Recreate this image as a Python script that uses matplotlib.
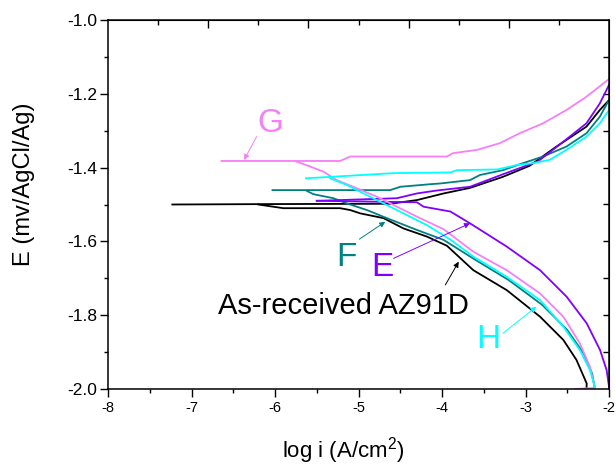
import matplotlib
matplotlib.use('Agg')
import matplotlib.pyplot as plt
import numpy as np

plt.rcParams['font.family'] = ['Liberation Sans', 'DejaVu Sans']
plt.rcParams['axes.unicode_minus'] = False
plt.rcParams['mathtext.fontset'] = 'custom'
plt.rcParams['mathtext.rm'] = 'Liberation Sans'

# As-received AZ91D (black)
blk_an_x = [-7.23, -6.2, -4.62, -4.30, -3.98, -3.665, -3.27, -2.95, -2.63, -2.27, -2.11, -2.0]
blk_an_y = [-1.500, -1.499, -1.498, -1.488, -1.470, -1.455, -1.425, -1.395, -1.343, -1.289, -1.244, -1.217]
blk_ca_x = [-6.2, -5.9, -5.22, -5.10, -4.98, -4.70, -4.46, -4.18, -3.94, -3.625, -3.225, -2.826, -2.547, -2.39, -2.267, -2.27]
blk_ca_y = [-1.500, -1.510, -1.510, -1.515, -1.524, -1.537, -1.565, -1.587, -1.612, -1.678, -1.732, -1.804, -1.867, -1.921, -1.985, -2.0]

# F (teal)
f_an_x = [-6.03, -4.62, -4.50, -4.14, -4.02, -3.665, -3.545, -3.27, -3.03, -2.79, -2.51, -2.27, -2.11, -2.0]
f_an_y = [-1.461, -1.461, -1.452, -1.445, -1.443, -1.434, -1.420, -1.407, -1.388, -1.370, -1.343, -1.307, -1.262, -1.217]
f_ca_x = [-5.62, -5.54, -5.30, -5.14, -4.90, -4.66, -4.30, -3.98, -3.6, -3.2, -2.8, -2.5, -2.3, -2.2, -2.17]
f_ca_y = [-1.463, -1.472, -1.483, -1.497, -1.515, -1.537, -1.569, -1.596, -1.650, -1.705, -1.772, -1.840, -1.905, -1.960, -2.0]

# E (purple)
e_an_x = [-5.50, -4.54, -4.30, -4.06, -3.665, -3.27, -2.85, -2.57, -2.27, -2.11, -2.0]
e_an_y = [-1.490, -1.483, -1.470, -1.462, -1.452, -1.418, -1.383, -1.334, -1.280, -1.226, -1.176]
e_ca_x = [-5.50, -4.30, -4.22, -3.90, -3.665, -3.225, -2.826, -2.507, -2.267, -2.108, -2.028, -1.996]
e_ca_y = [-1.490, -1.494, -1.506, -1.519, -1.551, -1.614, -1.678, -1.750, -1.822, -1.894, -1.949, -2.0]

# H (cyan)
h_an_x = [-5.63, -4.58, -3.90, -3.82, -3.34, -3.10, -2.91, -2.71, -2.51, -2.27, -2.11, -2.0]
h_an_y = [-1.429, -1.415, -1.413, -1.407, -1.405, -1.393, -1.388, -1.379, -1.352, -1.316, -1.280, -1.244]
h_ca_x = [-5.34, -5.14, -4.94, -4.70, -4.46, -4.18, -3.90, -3.625, -3.225, -2.826, -2.547, -2.35, -2.228, -2.168]
h_ca_y = [-1.429, -1.447, -1.470, -1.497, -1.524, -1.556, -1.595, -1.641, -1.696, -1.759, -1.831, -1.894, -1.949, -1.995]

# G (pink)
g_an_x = [-6.64, -5.22, -5.10, -3.94, -3.87, -3.58, -3.31, -3.07, -2.79, -2.51, -2.27, -2.0]
g_an_y = [-1.382, -1.382, -1.370, -1.370, -1.361, -1.352, -1.334, -1.307, -1.280, -1.244, -1.208, -1.160]
g_ca_x = [-5.74, -5.58, -5.42, -5.26, -5.02, -4.78, -4.54, -4.30, -3.98, -3.625, -3.225, -2.826, -2.547, -2.35, -2.228, -2.168, -2.41]
g_ca_y = [-1.384, -1.397, -1.411, -1.434, -1.456, -1.479, -1.506, -1.533, -1.567, -1.628, -1.678, -1.741, -1.804, -1.876, -1.940, -1.997, -2.0]

c_blk = 'black'
c_f = '#008080'
c_e = '#8000ff'
c_h = '#00ffff'
c_g = '#f57ff5'

fig = plt.figure(figsize=(6.16, 4.66), dpi=100)
ax = fig.add_axes([108/616, 1 - 389/466, 501/616, 369/466])

lw = 1.3
ax.plot(blk_an_x, blk_an_y, color=c_blk, lw=lw)
ax.plot(blk_ca_x, blk_ca_y, color=c_blk, lw=lw)
ax.plot(f_an_x, f_an_y, color=c_f, lw=lw)
ax.plot(f_ca_x, f_ca_y, color=c_f, lw=lw)
ax.plot(e_an_x, e_an_y, color=c_e, lw=lw)
ax.plot(e_ca_x, e_ca_y, color=c_e, lw=lw)
ax.plot(g_an_x, g_an_y, color=c_g, lw=lw)
ax.plot(g_ca_x, g_ca_y, color=c_g, lw=lw)
ax.plot(h_an_x, h_an_y, color=c_h, lw=lw)
ax.plot(h_ca_x, h_ca_y, color=c_h, lw=lw)

ax.set_xlim(-8, -2)
ax.set_ylim(-2.0, -1.0)

for s in ax.spines.values():
    s.set_linewidth(1.1)

ax.set_xticks(np.arange(-8, -1.9, 1))
ax.set_xticks(np.arange(-7.5, -2, 1), minor=True)
ax.set_xticklabels(['-8', '-7', '-6', '-5', '-4', '-3', '-2'])
ax.set_yticks(np.arange(-2.0, -0.99, 0.2))
ax.set_yticks(np.arange(-1.9, -1.0, 0.2), minor=True)
ax.set_yticklabels(['-2.0', '-1.8', '-1.6', '-1.4', '-1.2', '-1.0'])
ax.tick_params(axis='both', which='major', direction='out', length=6, width=1.0)
ax.tick_params(axis='both', which='minor', direction='out', length=3, width=1.0)
ax.tick_params(axis='x', which='major', labelsize=10.5, pad=3)
ax.tick_params(axis='y', which='major', labelsize=12.5, pad=2)

# top axis (inward ticks, no labels)
top = ax.secondary_xaxis('top')
top.set_xticks([-6.8, -5.6, -4.4, -3.2])
top.set_xticks([-7.4, -6.2, -5.0, -3.8, -2.6], minor=True)
top.tick_params(which='major', direction='in', length=6, width=1.0, labeltop=False)
top.tick_params(which='minor', direction='in', length=3.5, width=1.0)

# right axis (inward ticks, no labels)
right = ax.secondary_yaxis('right')
right.set_yticks(np.arange(-1.9, -1.0, 0.1))
right.tick_params(direction='in', length=4.5, width=1.0, labelright=False)
right.yaxis.set_minor_locator(matplotlib.ticker.NullLocator())

ax.set_xlabel(r'log i (A/cm$^2$)', fontsize=16)
ax.set_ylabel('E (mv/AgCl/Ag)', fontsize=17)
ax.xaxis.set_label_coords(0.469, -0.125)
ax.yaxis.set_label_coords(-0.145, 0.556)

arr = dict(arrowstyle='-|>', lw=0.7, mutation_scale=8, shrinkA=0, shrinkB=0)

ax.text(-6.06, -1.280, 'G', color=c_g, fontsize=24, ha='center', va='center')
ax.annotate('', xy=(-6.37, -1.379), xytext=(-6.22, -1.316), arrowprops=dict(arr, color=c_g))

ax.text(-5.14, -1.644, 'F', color=c_f, fontsize=24, ha='center', va='center')
ax.annotate('', xy=(-4.68, -1.547), xytext=(-4.99, -1.594), arrowprops=dict(arr, color=c_f))

ax.text(-4.71, -1.671, 'E', color=c_e, fontsize=24, ha='center', va='center')
ax.annotate('', xy=(-3.665, -1.551), xytext=(-4.58, -1.646), arrowprops=dict(arr, color=c_e))

ax.text(-5.18, -1.775, 'As-received AZ91D', color='black', fontsize=21, ha='center', va='center')
ax.annotate('', xy=(-3.80, -1.655), xytext=(-3.96, -1.718), arrowprops=dict(arr, color='black'))

ax.text(-3.44, -1.867, 'H', color=c_h, fontsize=24, ha='center', va='center')
ax.annotate('', xy=(-2.87, -1.777), xytext=(-3.27, -1.849), arrowprops=dict(arr, color=c_h))

fig.savefig('out.png', dpi=100)
